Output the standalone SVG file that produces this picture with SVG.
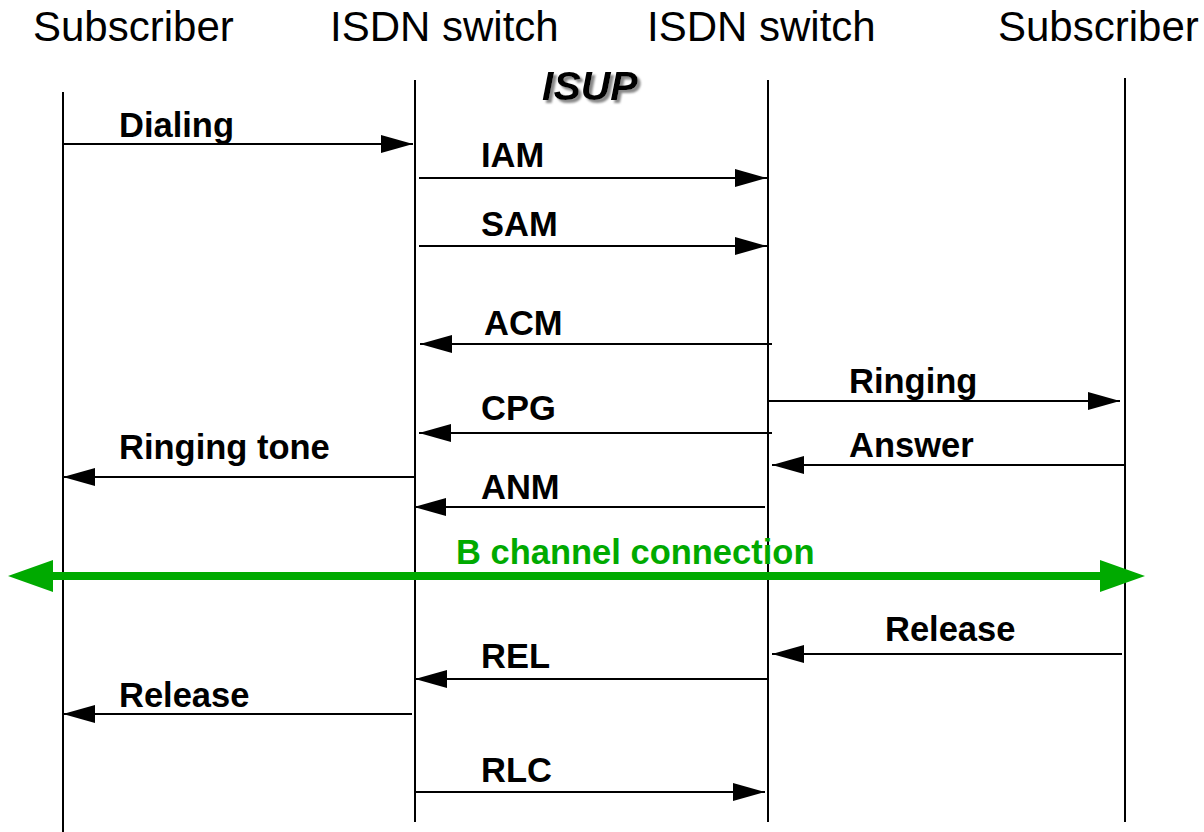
<svg xmlns="http://www.w3.org/2000/svg" width="1204" height="832" viewBox="0 0 1204 832">
<style>
.hdr{font-family:"Liberation Sans",Arial,sans-serif;font-size:42px;fill:#000}
.msg{font-family:"Liberation Sans",Arial,sans-serif;font-size:34.5px;font-weight:bold;fill:#000}
.life{stroke:#000;stroke-width:2;fill:none}
.arr{stroke:#000;stroke-width:2;fill:none;marker-end:url(#ah)}
.isup{font-family:"Liberation Sans",Arial,sans-serif;font-size:41px;font-weight:bold;font-style:italic;fill:#000;filter:url(#shadow)}
</style>
<defs>
<marker id="ah" viewBox="0 0 32 18" refX="32" refY="9" markerWidth="32" markerHeight="18" markerUnits="userSpaceOnUse" orient="auto">
<path d="M0,0 L32,9 L0,18 Z" fill="#000"/>
</marker>
<filter id="shadow" x="-10%" y="-20%" width="130%" height="150%">
<feDropShadow dx="3" dy="3" stdDeviation="0.8" flood-color="#888" flood-opacity="1"/>
</filter>
</defs>
<rect width="1204" height="832" fill="#fff"/>
<g id="subscriber-a">
<text class="hdr" x="33" y="41">Subscriber</text>
<line class="life" x1="63" y1="92" x2="63" y2="832"/>
</g>
<g id="switch-a">
<text class="hdr" x="330" y="41">ISDN switch</text>
<line class="life" x1="415" y1="80" x2="415" y2="822"/>
</g>
<g id="switch-b">
<text class="hdr" x="647" y="41">ISDN switch</text>
<line class="life" x1="768" y1="80" x2="768" y2="822"/>
</g>
<g id="subscriber-b">
<text class="hdr" x="998" y="41">Subscriber</text>
<line class="life" x1="1125" y1="78" x2="1125" y2="822"/>
</g>
<g id="isup-label">
<text class="isup" x="542" y="100">ISUP</text>
</g>
<g id="connectors">
<line class="arr" x1="63" y1="144" x2="413" y2="144"/>
<text class="msg" x="119" y="137">Dialing</text>
<line class="arr" x1="419" y1="178" x2="767" y2="178"/>
<text class="msg" x="481" y="167">IAM</text>
<line class="arr" x1="419" y1="246" x2="767" y2="246"/>
<text class="msg" x="481" y="236">SAM</text>
<line class="arr" x1="772" y1="344" x2="420" y2="344"/>
<text class="msg" x="484" y="335">ACM</text>
<line class="arr" x1="768" y1="401" x2="1120" y2="401"/>
<text class="msg" x="849" y="393">Ringing</text>
<line class="arr" x1="772" y1="433" x2="419" y2="433"/>
<text class="msg" x="481" y="420">CPG</text>
<line class="arr" x1="1125" y1="465" x2="772" y2="465"/>
<text class="msg" x="849" y="457">Answer</text>
<line class="arr" x1="414" y1="477" x2="63" y2="477"/>
<text class="msg" x="119" y="459">Ringing tone</text>
<line class="arr" x1="765" y1="507" x2="414" y2="507"/>
<text class="msg" x="481" y="499">ANM</text>
<line x1="53" y1="576" x2="1100" y2="576" stroke="#00AA00" stroke-width="8"/>
<path d="M8,576 L53,560 L53,592 Z" fill="#00AA00"/>
<path d="M1145,576 L1100,560 L1100,592 Z" fill="#00AA00"/>
<text class="msg" x="456" y="564" style="fill:#00AA00">B channel connection</text>
<line class="arr" x1="1122" y1="654" x2="772" y2="654"/>
<text class="msg" x="885" y="641">Release</text>
<line class="arr" x1="767" y1="679" x2="415" y2="679"/>
<text class="msg" x="481" y="668">REL</text>
<line class="arr" x1="412" y1="714" x2="63" y2="714"/>
<text class="msg" x="119" y="707">Release</text>
<line class="arr" x1="415" y1="792" x2="765" y2="792"/>
<text class="msg" x="481" y="782">RLC</text>
</g>
</svg>
